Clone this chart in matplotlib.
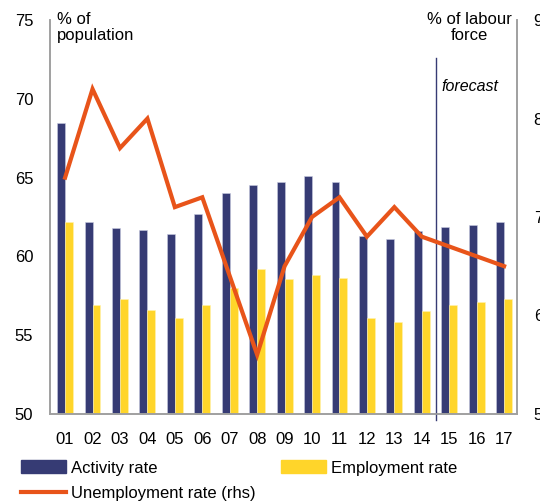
import numpy as np
import matplotlib
matplotlib.use('Agg')
import matplotlib.pyplot as plt
from matplotlib.patches import Patch
from matplotlib.lines import Line2D

# data
years = ['01','02','03','04','05','06','07','08','09','10','11','12','13','14','15','16','17']
activity = [68.5, 62.2, 61.8, 61.7, 61.4, 62.7, 64.0, 64.5, 64.7, 65.1, 64.7, 61.3, 61.1, 61.6, 61.85, 62.0, 62.2]
employment = [62.2, 56.9, 57.3, 56.6, 56.1, 56.9, 58.0, 59.2, 58.55, 58.8, 58.6, 56.1, 55.8, 56.5, 56.9, 57.1, 57.3]
unemployment = [7.4, 8.3, 7.7, 8.0, 7.1, 7.2, 6.4, 5.6, 6.5, 7.0, 7.2, 6.8, 7.1, 6.8, 6.7, 6.6, 6.5]
forecast_pos = 13.5   # between 14 and 15

navy = '#363b74'
yellow = '#ffd52a'
orange = '#e8541a'
grey = '#a0a0a0'

plt.rcParams['font.family'] = ['Liberation Sans', 'DejaVu Sans']
plt.rcParams['font.size'] = 12

fig = plt.figure(figsize=(5.4, 5.04), dpi=100)
ax = fig.add_axes([0.0926, 0.179, 0.8648, 0.781])
x = np.arange(len(years))
w = 0.29

ax.bar(x - w/2, activity, width=w, color=navy, edgecolor='#c8cbe0', linewidth=0.4)
ax.bar(x + w/2, employment, width=w, color=yellow, edgecolor='#fff3b0', linewidth=0.4)
ax.set_ylim(50, 75)
ax.set_yticks([50, 55, 60, 65, 70, 75])
ax.set_xlim(-0.55, 16.47)
ax.set_xticks(x)
ax.set_xticklabels(years)
ax.tick_params(axis='both', length=0, labelsize=12)
ax.tick_params(axis='y', pad=12)
ax.tick_params(axis='x', pad=13)

ax2 = ax.twinx()
ax2.plot(x, unemployment, color=orange, linewidth=3, solid_joinstyle='miter')
ax2.set_ylim(5, 9)
ax2.set_yticks([5, 6, 7, 8, 9])
ax2.tick_params(axis='y', length=0, pad=12, labelsize=12)

for a in (ax, ax2):
    a.spines['top'].set_visible(False)
    for s in ('left', 'right', 'bottom'):
        a.spines[s].set_color(grey)
        a.spines[s].set_linewidth(1.2)

# forecast marker line
ax.plot([forecast_pos, forecast_pos], [72.6, 49.6], color=navy, linewidth=1.0, clip_on=False, zorder=5)
ax.text(forecast_pos + 0.22, 70.8, 'forecast', style='italic', fontsize=11.5, ha='left', va='center')

fig.text(0.106, 0.976, '% of\npopulation', ha='left', va='top', fontsize=12, linespacing=1.1)
fig.text(0.948, 0.976, '% of labour\nforce', ha='right', va='top', fontsize=12, linespacing=1.1, multialignment='center')

handles = [Patch(color=navy), Line2D([0], [0], color=orange, linewidth=3),
           Patch(color=yellow)]
labels = ['Activity rate', 'Unemployment rate (rhs)', 'Employment rate']
fig.legend(handles, labels, ncol=2, loc='upper left', bbox_to_anchor=(0.024, 0.103),
           frameon=False, fontsize=12, handlelength=2.7, handleheight=0.8,
           handletextpad=0.3, columnspacing=1.5, labelspacing=0.6, borderpad=0)

fig.savefig('out.png', dpi=100)
